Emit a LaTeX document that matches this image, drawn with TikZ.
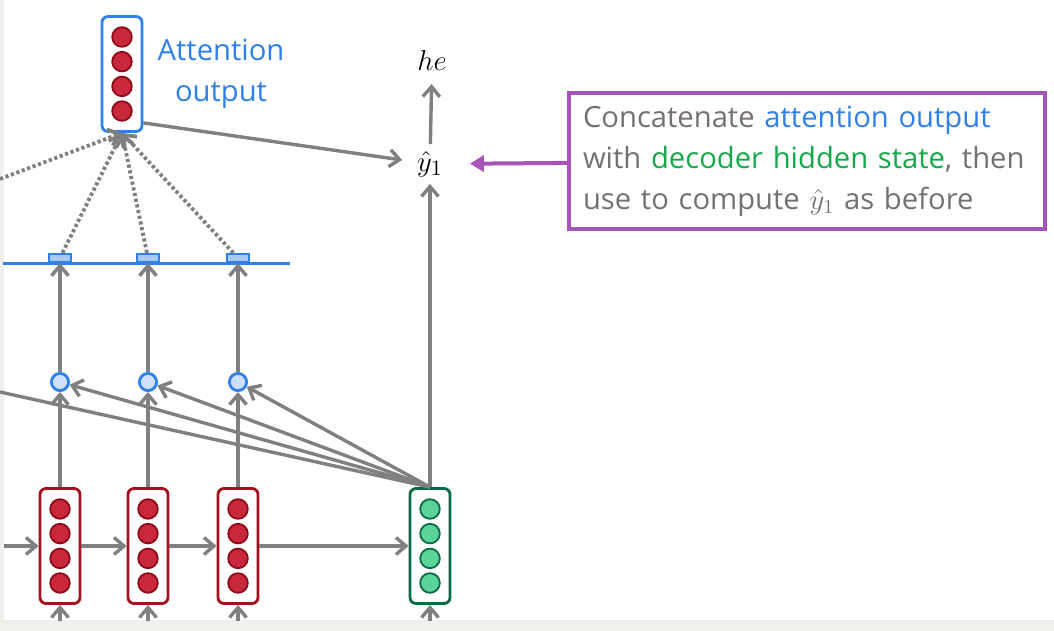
\documentclass[tikz,border=0pt]{standalone}
\usepackage{fontspec}
\setsansfont{Open Sans}
\usetikzlibrary{arrows.meta,positioning}
\definecolor{attnblue}{HTML}{2F80E8}
\definecolor{attnlight}{HTML}{CFE0FB}
\definecolor{attnpale}{HTML}{A9C9F2}
\definecolor{encred}{HTML}{C9283C}
\definecolor{encdark}{HTML}{8E0C18}
\definecolor{encbox}{HTML}{A3101E}
\definecolor{decgreen}{HTML}{5AD49B}
\definecolor{decdark}{HTML}{0A6B45}
\definecolor{notegreen}{HTML}{16A84A}
\definecolor{notepurple}{HTML}{A855B8}
\definecolor{notegray}{HTML}{767171}
\definecolor{arrowgray}{HTML}{808080}
\definecolor{bggray}{HTML}{F1F0EC}

\begin{document}
\begin{tikzpicture}[x=0.5pt,y=-0.5pt,
  font=\sffamily,
  vec/.style={draw,rounded corners=3pt,line width=1.4pt,minimum width=20pt,minimum height=57.5pt,fill=white},
  unit/.style={circle,draw,line width=0.9pt,minimum size=9.8pt,inner sep=0pt},
  redunit/.style={unit,draw=encdark,fill=encred},
  greenunit/.style={unit,draw=decdark,fill=decgreen},
  score/.style={circle,draw=attnblue,fill=attnlight,line width=1.4pt,minimum size=8.6pt,inner sep=0pt},
  dist/.style={rectangle,draw=attnblue,fill=attnpale,line width=0.9pt,minimum width=11pt,minimum height=4.2pt,inner sep=0pt},
  arr/.style={-{Straight Barb[length=5pt,width=8.5pt]},draw=arrowgray,line width=1.7pt},
  dots/.style={arr,line width=1.9pt,dash pattern=on 1.6pt off 1.3pt},
  link/.style={draw=arrowgray,line width=1.7pt},
  note/.style={draw=notepurple,line width=1.6pt,text=notegray,align=left,text width=224pt,minimum height=68pt,inner xsep=7pt,font=\sffamily\fontsize{14.6}{20.5}\selectfont}
]
\useasboundingbox (0,0) rectangle (1054,631);
\fill[bggray] (0,0) rectangle (1054,631);
\fill[white] (4,0) rectangle (1054,620);

\node[vec,draw=attnblue] (attn) at (122,74) {};
\node[vec,draw=encbox] (enc1) at (60,546) {};
\node[vec,draw=encbox] (enc2) at (148,546) {};
\node[vec,draw=encbox] (enc3) at (238,546) {};
\node[vec,draw=decdark] (dec) at (430,546) {};
\foreach \v/\c in {attn/redunit,enc1/redunit,enc2/redunit,enc3/redunit,dec/greenunit}
  \foreach \k in {-18.5,-6.2,6.2,18.5}
    \node[\c] at ([yshift=\k pt]\v.center) {};
\node[text=attnblue,align=center,font=\sffamily\fontsize{14.6}{20.5}\selectfont] (attnlbl) at (221,74) {Attention\\output};

\node[score] (sc1) at (60,382) {};
\node[score] (sc2) at (148,382) {};
\node[score] (sc3) at (238,382) {};
\coordinate (barL) at (3,263);
\coordinate (barR) at (290,263);
\draw[attnblue,line width=1.5pt] (barL) -- (barR);
\node[dist] (d1) at (60,258) {};
\node[dist] (d2) at (148,258) {};
\node[dist] (d3) at (238,258) {};

\node[font=\fontsize{15}{17}\selectfont] (yhat) at (430,164) {$\hat{y}_1$};
\node[font=\fontsize{15}{17}\selectfont] (he) at (432,61) {$he$};
\node[note] (note) at (807,161) {Concatenate {\color{attnblue}attention output}\\with {\color{notegreen}decoder hidden state}, then\\use to compute $\hat{y}_1$ as before};

\coordinate (inL) at (4,546);
\coordinate (in1) at (60,621);
\coordinate (in2) at (148,621);
\coordinate (in3) at (238,621);
\coordinate (in4) at (430,621);
\coordinate (offsc) at (0,392);
\coordinate (offd) at (0,179);

\draw[arr] (inL) -- (enc1);
\draw[arr] (enc1) -- (enc2);
\draw[arr] (enc2) -- (enc3);
\draw[arr] (enc3) -- (dec);
\draw[arr] (in1) -- (enc1);
\draw[arr] (in2) -- (enc2);
\draw[arr] (in3) -- (enc3);
\draw[arr] (in4) -- (dec);
\draw[arr] (enc1) -- (sc1);
\draw[arr] (enc2) -- (sc2);
\draw[arr] (enc3) -- (sc3);
\draw[link] (dec.north) -- (offsc);
\draw[arr] (dec.north) -- (sc1);
\draw[arr] (dec.north) -- (sc2);
\draw[arr] (dec.north) -- (sc3);
\draw[arr] (sc1) -- (d1.south);
\draw[arr] (sc2) -- (d2.south);
\draw[arr] (sc3) -- (d3.south);
\draw[dots] (offd) -- (attn.south);
\draw[dots] (d1) -- (attn.south);
\draw[dots] (d2) -- (attn.south);
\draw[dots] (d3) -- (attn.south);
\draw[arr,shorten >=4pt] ([yshift=5pt]attn.south east) -- (yhat);
\draw[arr] (dec) -- (yhat);
\draw[arr,shorten >=3pt] (yhat) -- (he);
\draw[-{Triangle[length=7pt,width=8pt]},draw=notepurple,fill=notepurple,line width=2pt,shorten >=10pt] (note) -- (yhat);
\end{tikzpicture}
\end{document}
